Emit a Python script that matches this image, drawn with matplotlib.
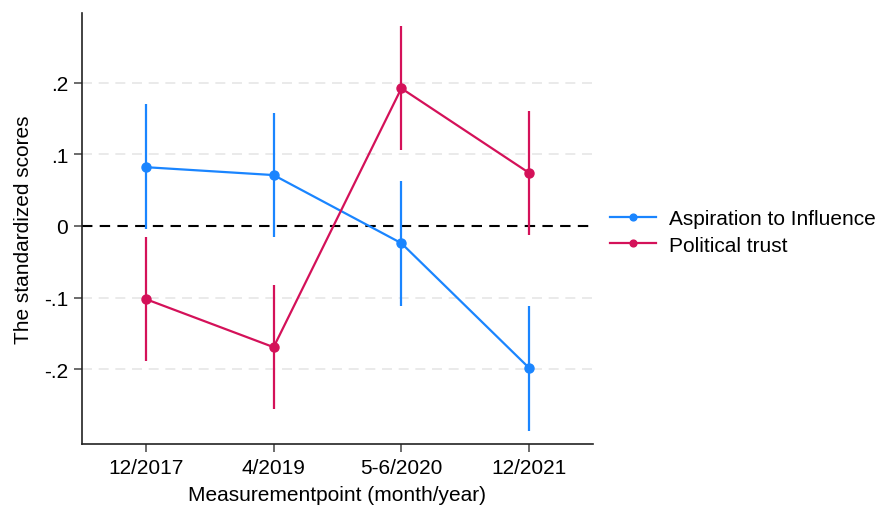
import matplotlib
matplotlib.use("Agg")
import matplotlib.pyplot as plt

plt.rcParams["font.family"] = ["Liberation Sans", "DejaVu Sans"]

waves = ["12/2017", "4/2019", "5-6/2020", "12/2021"]

aspiration = [0.082, 0.071, -0.024, -0.198]
aspiration_lo = [-0.004, -0.015, -0.112, -0.286]
aspiration_hi = [0.170, 0.158, 0.063, -0.112]

trust = [-0.102, -0.169, 0.192, 0.074]
trust_lo = [-0.188, -0.255, 0.106, -0.013]
trust_hi = [-0.015, -0.082, 0.279, 0.160]

BLUE = "#1a85ff"
RED = "#d41159"

fig = plt.figure(figsize=(8.75, 5.06), dpi=100)
ax = fig.add_axes([0.0937, 0.1206, 0.584, 0.8517])

x = list(range(1, len(waves) + 1))

for vals, lo, hi, color, label in [
    (aspiration, aspiration_lo, aspiration_hi, BLUE, "Aspiration to Influence"),
    (trust, trust_lo, trust_hi, RED, "Political trust"),
]:
    ax.vlines(x, lo, hi, color=color, linewidth=1.6, zorder=3)
    ax.plot(x, vals, color=color, linewidth=1.6, marker="o", markersize=6.5,
            label=label, zorder=4)

for y in [-0.2, -0.1, 0.1, 0.2]:
    ax.axhline(y, color="#e6e6e6", linewidth=1.2, linestyle=(0, (6, 4)), zorder=1)
ax.axhline(0, color="black", linewidth=1.5, linestyle=(0, (5, 3.5)), zorder=2)

ax.set_xlim(0.5, 4.5)
ax.set_ylim(-0.304, 0.297)
ax.set_xticks(x)
ax.set_xticklabels(waves)
ax.set_yticks([-0.2, -0.1, 0, 0.1, 0.2])
ax.set_yticklabels(["-.2", "-.1", "0", ".1", ".2"])

for side in ["top", "right"]:
    ax.spines[side].set_visible(False)
for side in ["left", "bottom"]:
    ax.spines[side].set_linewidth(1.2)
    ax.spines[side].set_color("#222222")

ax.tick_params(axis="both", labelsize=15, length=6, width=1.1, color="#444444", pad=4)

ax.set_xlabel("Measurementpoint (month/year)", fontsize=15, labelpad=6)
ax.set_ylabel("The standardized scores", fontsize=15, labelpad=8)

ax.legend(loc="center left", bbox_to_anchor=(610 / 875, 1 - 233 / 506),
          bbox_transform=fig.transFigure, frameon=False, borderpad=0,
          borderaxespad=0, fontsize=15, handlelength=2.2, handletextpad=0.65,
          labelspacing=0.35, markerscale=0.75)

fig.savefig("out.png", dpi=100, facecolor="white")
